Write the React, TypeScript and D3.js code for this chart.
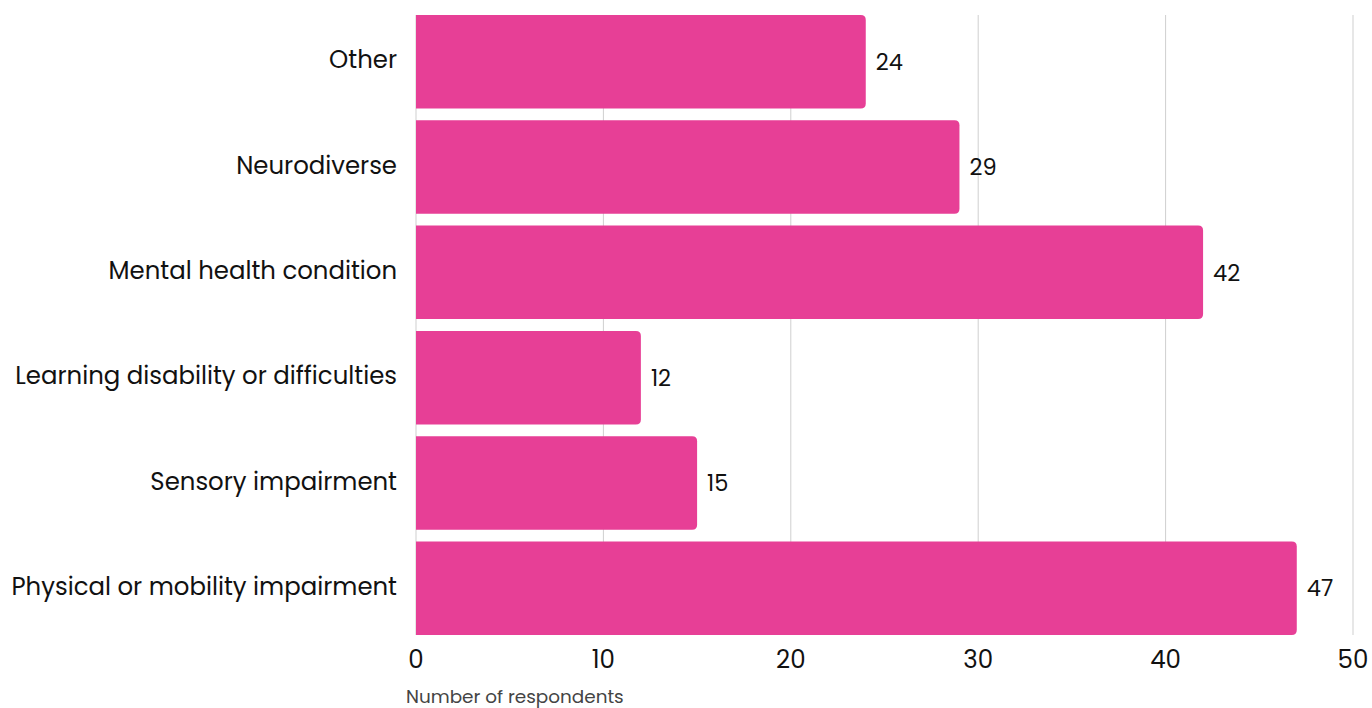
import React from "react";
import * as d3 from "d3";

const categories = [
  "Other",
  "Neurodiverse",
  "Mental health condition",
  "Learning disability or difficulties",
  "Sensory impairment",
  "Physical or mobility impairment",
];
const values = [24, 29, 42, 12, 15, 47];
const xTicks = [0, 10, 20, 30, 40, 50];
const xTitle = "Number of respondents";

const W = 1372;
const H = 708;
const left = 416;
const right = 1353;
const top = 15;
const bottom = 635;
const FONT = "Poppins, 'Open Sans', 'Noto Sans', sans-serif";
const PINK = "#E73F96";

function barPath(x0: number, x1: number, y0: number, h: number, r: number) {
  const rr = Math.min(r, (x1 - x0) / 2, h / 2);
  return `M${x0},${y0}H${x1 - rr}Q${x1},${y0} ${x1},${y0 + rr}V${y0 + h - rr}Q${x1},${y0 + h} ${x1 - rr},${y0 + h}H${x0}Z`;
}

export default function App() {
  const x = d3.scaleLinear().domain([0, 50]).range([left, right]);
  const y = d3
    .scaleBand<string>()
    .domain(categories)
    .range([top, bottom])
    .paddingInner(0.112)
    .paddingOuter(0);
  const bw = y.bandwidth();

  return (
    <svg
      width={W}
      height={H}
      style={{ position: "absolute", left: 0, top: 0, background: "#fff" }}
      fontFamily={FONT}
    >
      {xTicks.map((t) => (
        <line
          key={"g" + t}
          x1={x(t)}
          x2={x(t)}
          y1={top}
          y2={bottom}
          stroke="#cfcfcf"
          strokeWidth={1}
        />
      ))}
      {categories.map((c, i) => {
        const y0 = y(c) as number;
        return (
          <g key={c}>
            <path d={barPath(x(0), x(values[i]), y0, bw, 5)} fill={PINK} />
            <text
              x={x(values[i]) + 10}
              y={y0 + bw / 2 + 2}
              dominantBaseline="middle"
              fontSize={22.5}
              fill="#111"
            >
              {values[i]}
            </text>
            <text
              x={397}
              y={y0 + bw / 2}
              dominantBaseline="middle"
              textAnchor="end"
              fontSize={24.4}
              fill="#111"
            >
              {c}
            </text>
          </g>
        );
      })}
      {xTicks.map((t) => (
        <text
          key={"t" + t}
          x={x(t)}
          y={661}
          textAnchor="middle"
          dominantBaseline="middle"
          fontSize={24.5}
          fill="#111"
        >
          {t}
        </text>
      ))}
      <text x={406} y={698} dominantBaseline="middle" fontSize={18.4} fill="#444">
        {xTitle}
      </text>
    </svg>
  );
}
